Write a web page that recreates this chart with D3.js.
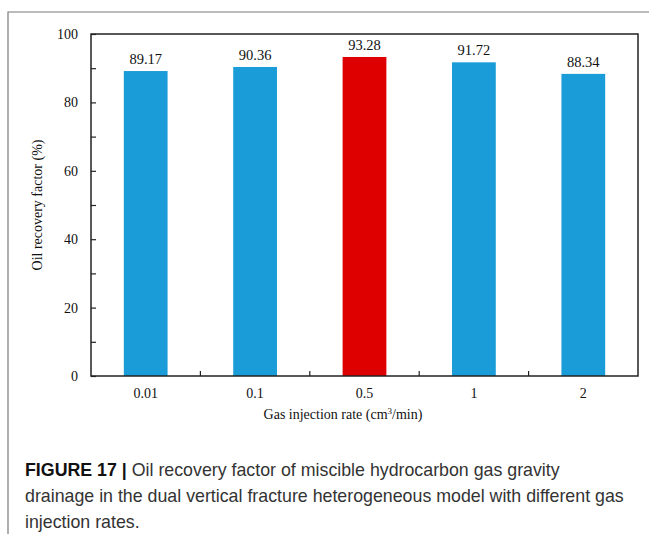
<!DOCTYPE html>
<html><head><meta charset="utf-8">
<script src="https://cdn.jsdelivr.net/npm/d3@7"></script>
<style>body{margin:0;background:#fff}svg{display:block}</style>
</head><body>
<script>
const categories = ["0.01","0.1","0.5","1","2"];
const values = [89.17, 90.36, 93.28, 91.72, 88.34];
const highlight = "0.5";
const yTicks = [0,20,40,60,80,100];
const yMinorTicks = [10,30,50,70,90];

const W = 651, H = 534;
const svg = d3.select("body").append("svg").attr("width", W).attr("height", H);

// card border (top + left)
svg.append("path").attr("d", `M8,534 L8,12 L649,12`).attr("fill","none").attr("stroke","#7a7a7a").attr("stroke-width",1.2);

const m = {l:91, r:638, t:34, b:376};
const x = d3.scaleBand().domain(categories).range([m.l, m.r]);
const y = d3.scaleLinear().domain([0,100]).range([m.b, m.t]);
const serif = "'Liberation Serif','Times New Roman',serif";

const bw = x.bandwidth()*0.4;
svg.selectAll("rect.bar").data(categories).join("rect")
  .attr("x", d => x(d) + x.bandwidth()/2 - bw/2)
  .attr("width", bw)
  .attr("y", (d,i) => y(values[i]))
  .attr("height", (d,i) => y(0) - y(values[i]))
  .attr("fill", d => d === highlight ? "#de0000" : "#1a9cd8");

svg.selectAll("text.val").data(categories).join("text")
  .attr("x", d => x(d) + x.bandwidth()/2)
  .attr("y", (d,i) => y(values[i]) - 7)
  .attr("text-anchor","middle")
  .attr("font-family", serif).attr("font-size", 14.5).attr("fill","#111")
  .text((d,i) => values[i].toFixed(2));

// plot frame
svg.append("rect").attr("x", m.l).attr("y", m.t).attr("width", m.r-m.l).attr("height", m.b-m.t)
  .attr("fill","none").attr("stroke","#222").attr("stroke-width",1.5);

// y axis
const yAxis = d3.axisLeft(y).tickValues(yTicks).tickSize(-5).tickPadding(13).tickFormat(d3.format("d"));
const gy = svg.append("g").attr("transform",`translate(${m.l},0)`).call(yAxis);
gy.select(".domain").remove();
gy.selectAll(".tick line").attr("stroke","#222").attr("stroke-width",1.2);
gy.selectAll(".tick text").attr("font-family", serif).attr("font-size",14).attr("fill","#111");
const gym = svg.append("g").attr("transform",`translate(${m.l},0)`).call(d3.axisLeft(y).tickValues(yMinorTicks).tickSize(-5).tickFormat(""));
gym.select(".domain").remove();
gym.selectAll(".tick line").attr("stroke","#222").attr("stroke-width",1.2);

// x axis
const xAxis = d3.axisBottom(x).tickSize(0).tickPadding(12);
const gx = svg.append("g").attr("transform",`translate(0,${m.b})`).call(xAxis);
gx.select(".domain").remove();
gx.selectAll(".tick text").attr("font-family", serif).attr("font-size",14).attr("fill","#111");
// boundary ticks between categories
svg.selectAll("line.xb").data(categories.slice(1)).join("line")
  .attr("x1", d => x(d)).attr("x2", d => x(d))
  .attr("y1", m.b).attr("y2", m.b-5)
  .attr("stroke","#222").attr("stroke-width",1.2);

// axis titles
const xt = svg.append("text").attr("x", 343).attr("y", 419).attr("text-anchor","middle")
  .attr("font-family", serif).attr("font-size",14).attr("fill","#111");
xt.append("tspan").text("Gas injection rate (cm");
xt.append("tspan").attr("font-size",9).attr("dy",-5).text("3");
xt.append("tspan").attr("dy",5).text("/min)");

svg.append("text").attr("transform",`translate(42,${(m.t+m.b)/2}) rotate(-90)`).attr("text-anchor","middle")
  .attr("font-family", serif).attr("font-size",14).attr("fill","#111").text("Oil recovery factor (%)");

// caption
const sans = "'Liberation Sans',Arial,sans-serif";
const cap = svg.append("g").attr("font-family", sans).attr("font-size",17.8).attr("fill","#333");
const l1 = cap.append("text").attr("x",25).attr("y",476);
l1.append("tspan").attr("font-weight","bold").attr("fill","#111").text("FIGURE 17 | ");
l1.append("tspan").text("Oil recovery factor of miscible hydrocarbon gas gravity");
cap.append("text").attr("x",25).attr("y",502).text("drainage in the dual vertical fracture heterogeneous model with different gas");
cap.append("text").attr("x",25).attr("y",528).text("injection rates.");
</script>
</body></html>
